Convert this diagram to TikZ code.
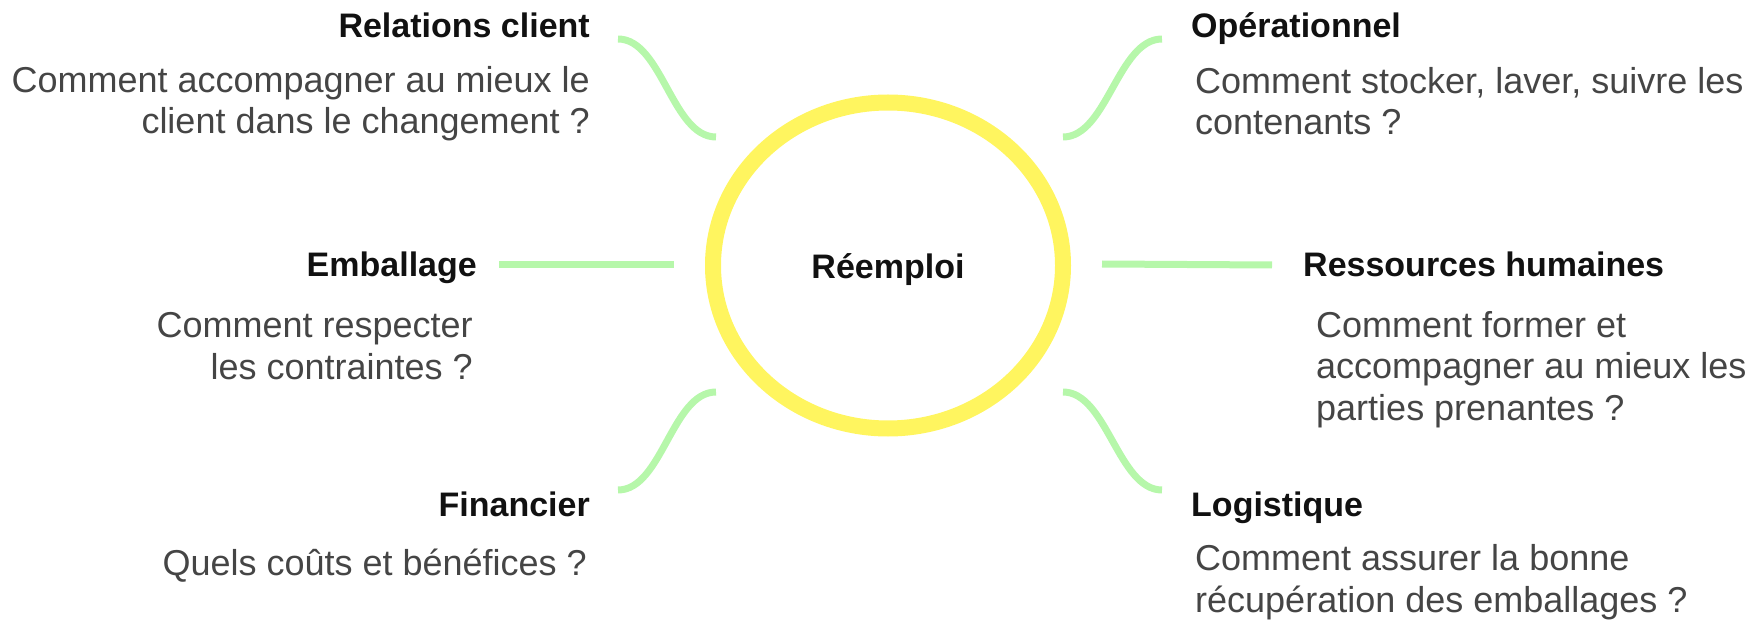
\documentclass[tikz,border=0pt]{standalone}
\usepackage{fontspec}
\setmainfont{Liberation Sans}
\usetikzlibrary{shapes.geometric}
\definecolor{ring}{HTML}{FFF55F}
\definecolor{leaf}{HTML}{B6F7AA}
\definecolor{headc}{HTML}{111111}
\definecolor{bodyc}{HTML}{454545}
\begin{document}
\begin{tikzpicture}[x=1pt,y=-1pt,
  headtxt/.style={inner sep=0pt, text=headc, font=\fontsize{34}{40}\selectfont\bfseries},
  bodytxt/.style={inner sep=0pt, text=bodyc, font=\fontsize{36}{41.5}\selectfont},
  link/.style={draw=leaf, line width=7pt}]
\useasboundingbox (0,0) rectangle (1746,620);
% centre
\node (c) [draw=ring, line width=16pt, ellipse, minimum width=350pt, minimum height=326pt, inner sep=0pt] at (888,265.5) {};
\node (lbl) [headtxt, anchor=base] at (888,279) {Réemploi};
% Relations client
\node (h1) [headtxt, anchor=base east] at (590,38) {Relations client};
\node (b1) [bodytxt, anchor=base east, align=right] at (590,134) {Comment accompagner au mieux le\\client dans le changement ?};
% Opérationnel
\node (h2) [headtxt, anchor=base west] at (1191,38) {Opérationnel};
\node (b2) [bodytxt, anchor=base west, align=left] at (1195,135) {Comment stocker, laver, suivre les\\contenants ?};
% Emballage
\node (h3) [headtxt, anchor=base east] at (477,277) {Emballage};
\node (b3) [bodytxt, anchor=base east, align=right] at (473,379) {Comment respecter\\les contraintes ?};
% Ressources humaines
\node (h4) [headtxt, anchor=base west] at (1303,277) {Ressources humaines};
\node (b4) [bodytxt, anchor=base west, align=left] at (1316,420) {Comment former et\\accompagner au mieux les\\parties prenantes ?};
% Financier
\node (h5) [headtxt, anchor=base east] at (590,516) {Financier};
\node (b5) [bodytxt, anchor=base east, align=right] at (587,575) {Quels coûts et bénéfices ?};
% Logistique
\node (h6) [headtxt, anchor=base west] at (1191,516) {Logistique};
\node (b6) [bodytxt, anchor=base west, align=left] at (1195,612) {Comment assurer la bonne\\récupération des emballages ?};
% connector end points
\coordinate (a1) at (618,39);  \coordinate (a2) at (716,137);
\coordinate (d1) at (1162,39); \coordinate (d2) at (1063,137);
\coordinate (e1) at (499,265); \coordinate (e2) at (674,265);
\coordinate (r1) at (1102,264); \coordinate (r2) at (1272,265);
\coordinate (f1) at (618,490); \coordinate (f2) at (716,392);
\coordinate (l1) at (1162,490); \coordinate (l2) at (1063,392);
\draw[link] (a1) .. controls (662,39) and (672,137) .. (a2);
\draw[link] (d1) .. controls (1118,39) and (1107,137) .. (d2);
\draw[link] (e1) -- (e2);
\draw[link] (r1) -- (r2);
\draw[link] (f1) .. controls (662,490) and (672,392) .. (f2);
\draw[link] (l1) .. controls (1118,490) and (1107,392) .. (l2);
\end{tikzpicture}
\end{document}
